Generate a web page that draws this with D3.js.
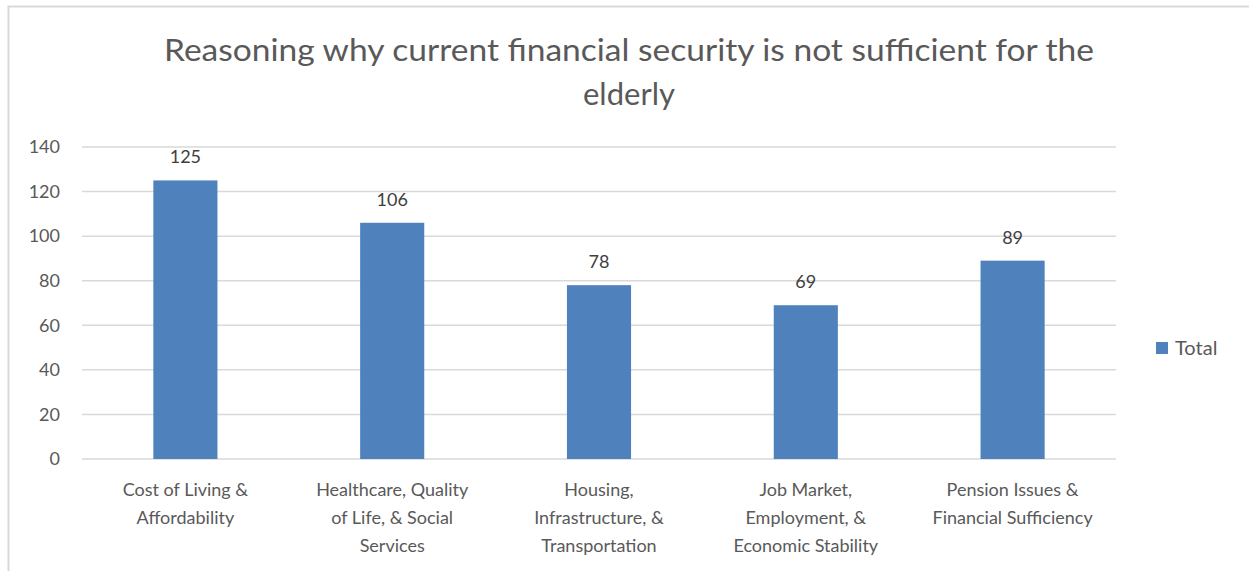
<!DOCTYPE html>
<html>
<head>
<meta charset="utf-8">
<script src="https://cdn.jsdelivr.net/npm/d3@7"></script>
<style>
  html, body { margin: 0; padding: 0; background: #ffffff; }
  svg { display: block; }
  text { font-family: Lato, "Open Sans", sans-serif; }
</style>
</head>
<body>
<svg id="chart" width="1249" height="571"></svg>
<script>
// Chart content
const titleLines = ["Reasoning why current financial security is not sufficient for the", "elderly"];
const categories = [
  "Cost of Living & Affordability",
  "Healthcare, Quality of Life, & Social Services",
  "Housing, Infrastructure, & Transportation",
  "Job Market, Employment, & Economic Stability",
  "Pension Issues & Financial Sufficiency"
];
const categoryLines = [
  ["Cost of Living &", "Affordability"],
  ["Healthcare, Quality", "of Life, & Social", "Services"],
  ["Housing,", "Infrastructure, &", "Transportation"],
  ["Job Market,", "Employment, &", "Economic Stability"],
  ["Pension Issues &", "Financial Sufficiency"]
];
const totals = [125, 106, 78, 69, 89];
const yTicks = [0, 20, 40, 60, 80, 100, 120, 140];
const seriesName = "Total";

const svg = d3.select("#chart");
const textColor = "#595959";
const barColor = "#4f81bd";
const gridColor = "#d9d9d9";

// outer chart frame
svg.append("rect")
  .attr("x", 8.5).attr("y", 6.5)
  .attr("width", 1400).attr("height", 800)
  .attr("fill", "#ffffff")
  .attr("stroke", gridColor).attr("stroke-width", 2);

const plot = { left: 82, right: 1116, top: 147, bottom: 459 };

const x = d3.scaleBand().domain(categories).range([plot.left, plot.right]).padding(0);
const y = d3.scaleLinear().domain([0, 140]).range([plot.bottom, plot.top]);
const barWidth = x.bandwidth() * 0.31;

// title
const title = svg.append("text")
  .attr("text-anchor", "middle")
  .attr("fill", textColor)
  .attr("font-size", 31);
title.selectAll("tspan").data(titleLines).join("tspan")
  .attr("x", 629)
  .attr("y", (d, i) => 61 + i * 44)
  .text(d => d);
title.select("tspan").attr("textLength", 930).attr("lengthAdjust", "spacingAndGlyphs");

// horizontal gridlines
svg.append("g").selectAll("line").data(yTicks).join("line")
  .attr("x1", plot.left).attr("x2", plot.right)
  .attr("y1", d => y(d)).attr("y2", d => y(d))
  .attr("stroke", gridColor).attr("stroke-width", 1.5);

// y axis labels
const yAxis = d3.axisLeft(y).tickValues(yTicks).tickSize(0).tickPadding(0);
const yg = svg.append("g").attr("transform", "translate(60,0)").call(yAxis);
yg.select(".domain").remove();
yg.selectAll("text")
  .attr("fill", textColor)
  .attr("font-size", 18)
  .attr("font-family", "Lato, 'Open Sans', sans-serif");

// bars
svg.append("g").selectAll("rect").data(categories).join("rect")
  .attr("x", d => x(d) + x.bandwidth() / 2 - barWidth / 2)
  .attr("width", barWidth)
  .attr("y", (d, i) => y(totals[i]))
  .attr("height", (d, i) => y(0) - y(totals[i]))
  .attr("fill", barColor);

// value labels
svg.append("g").selectAll("text").data(categories).join("text")
  .attr("x", d => x(d) + x.bandwidth() / 2)
  .attr("y", (d, i) => y(totals[i]) - 17)
  .attr("text-anchor", "middle")
  .attr("fill", "#404040")
  .attr("font-size", 18)
  .text((d, i) => totals[i]);

// category labels
const xl = svg.append("g").selectAll("text").data(categories).join("text")
  .attr("text-anchor", "middle")
  .attr("fill", textColor)
  .attr("font-size", 18);
xl.selectAll("tspan").data((d, i) => categoryLines[i].map(t => ({ t, c: d }))).join("tspan")
  .attr("x", d => x(d.c) + x.bandwidth() / 2)
  .attr("y", (d, j) => 496 + j * 28)
  .text(d => d.t);

// legend
const legend = svg.append("g");
legend.append("rect")
  .attr("x", 1156).attr("y", 342).attr("width", 12).attr("height", 12)
  .attr("fill", barColor);
legend.append("text")
  .attr("x", 1175).attr("y", 355)
  .attr("fill", textColor)
  .attr("font-size", 20)
  .text(seriesName);
</script>
</body>
</html>
